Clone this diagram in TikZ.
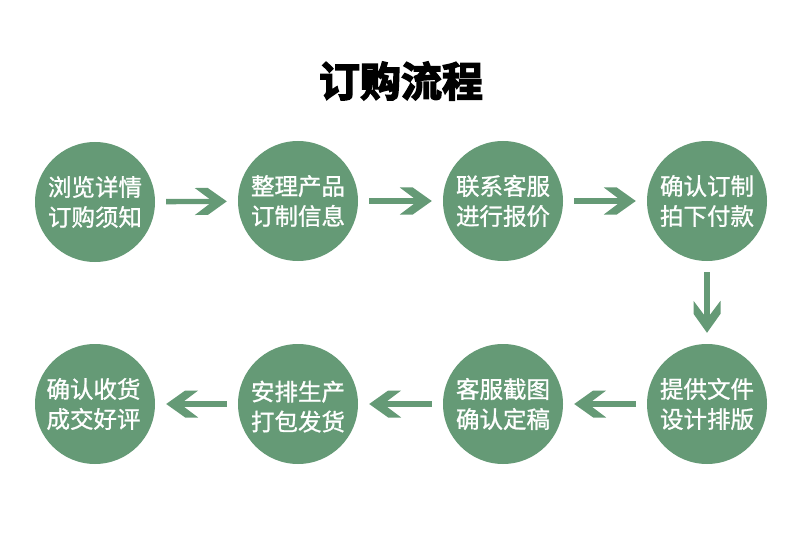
\documentclass[tikz,border=0pt]{standalone}
\usepackage{fontspec}
\setmainfont{Noto Sans CJK SC}
\newfontfamily\bodycjk[FakeBold=1.1]{Noto Sans CJK SC}
\newfontfamily\titlecjk[FakeBold=3.6]{Noto Sans CJK SC Bold}
\definecolor{stepgreen}{HTML}{659A76}
\pgfdeclarearrow{
  name=FlatBarb,
  setup code={
    \pgfarrowssettipend{0pt}
    \pgfarrowssetlineend{-12pt}
    \pgfarrowssetvisualbackend{-32pt}
    \pgfarrowssetbackend{-32pt}
  },
  drawing code={
    \pgfpathmoveto{\pgfqpoint{0pt}{0pt}}
    \pgfpathlineto{\pgfqpoint{-19pt}{13.5pt}}
    \pgfpathlineto{\pgfqpoint{-32pt}{13.5pt}}
    \pgfpathlineto{\pgfqpoint{-14pt}{0pt}}
    \pgfpathlineto{\pgfqpoint{-32pt}{-13.5pt}}
    \pgfpathlineto{\pgfqpoint{-19pt}{-13.5pt}}
    \pgfpathclose
    \pgfusepathqfill
  },
  defaults={}
}
\tikzset{
  stepnode/.style={circle,fill=stepgreen,text=white,minimum size=120pt,inner sep=0pt,
    align=center,font=\fontsize{23.5}{30}\bodycjk},
  flow/.style={draw=stepgreen,line width=5.3pt,-{FlatBarb},shorten <=11pt,shorten >=11pt},
}
\begin{document}
\begin{tikzpicture}[x=1pt,y=-1pt]
\useasboundingbox (0,0) rectangle (800,540);
\node[text=black,font=\fontsize{41}{44}\titlecjk] (title) at (401,81) {订购流程};
\node[stepnode] (a1) at (95,202) {浏览详情\\订购须知};
\node[stepnode] (a2) at (298,201) {整理产品\\订制信息};
\node[stepnode] (a3) at (503,201) {联系客服\\进行报价};
\node[stepnode] (a4) at (707,201) {确认订制\\拍下付款};
\node[stepnode] (a5) at (707,404) {提供文件\\设计排版};
\node[stepnode] (a6) at (503,404) {客服截图\\确认定稿};
\node[stepnode] (a7) at (298,404) {\rule{0pt}{25pt}安排生产\\打包发货};
\node[stepnode] (a8) at (95,404) {\hspace*{-3pt}确认收货\\\hspace*{-3pt}成交好评};
\draw[flow] (a1) -- (a2);
\draw[flow] (a2) -- (a3);
\draw[flow] (a3) -- (a4);
\draw[flow] (a4) -- (a5);
\draw[flow] (a5) -- (a6);
\draw[flow] (a6) -- (a7);
\draw[flow] (a7) -- (a8);
\end{tikzpicture}
\end{document}
